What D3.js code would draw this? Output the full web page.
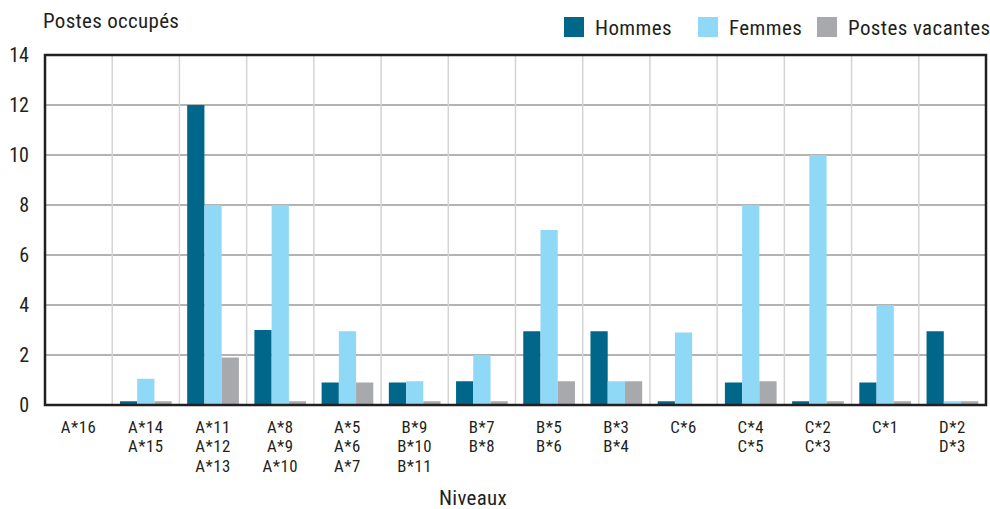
<!DOCTYPE html>
<html><head><meta charset="utf-8">
<script src="https://cdn.jsdelivr.net/npm/d3@7/dist/d3.min.js"></script>
<style>
body{margin:0;background:#fff;}
text{font-family:"Liberation Sans Narrow","Roboto Condensed","Arial Narrow","Liberation Sans",sans-serif;fill:#231f20;}
</style></head><body>
<svg id="c" width="990" height="509"></svg>
<script>
const categories = [["A*16"],["A*14","A*15"],["A*11","A*12","A*13"],["A*8","A*9","A*10"],["A*5","A*6","A*7"],["B*9","B*10","B*11"],["B*7","B*8"],["B*5","B*6"],["B*3","B*4"],["C*6"],["C*4","C*5"],["C*2","C*3"],["C*1"],["D*2","D*3"]];
const seriesNames = ["Hommes","Femmes","Postes vacantes"];
const hommes   = [0, 0.15, 12, 3, 0.9, 0.9, 0.95, 2.95, 2.95, 0.15, 0.9, 0.15, 0.9, 2.95];
const femmes   = [0, 1.05, 8, 8, 2.95, 0.95, 2, 7, 0.95, 2.9, 8, 10, 4, 0.15];
const vacantes = [0, 0.15, 1.9, 0.15, 0.9, 0.15, 0.15, 0.95, 0.95, 0, 0.95, 0.15, 0.15, 0.15];
const yTicks = [0,2,4,6,8,10,12,14];
const colors = ["#00678a","#8fd8f6","#a8a9ad"];

const svg = d3.select("#c");
const L=45, R=986, T=55, B=405;
const keys = categories.map(c=>c.join(" "));
const x = d3.scaleBand().domain(keys).range([L,R]).paddingInner(0).paddingOuter(0);
const xi = d3.scaleBand().domain(seriesNames).range([0,x.bandwidth()]).paddingOuter(0.45).paddingInner(0);
const y = d3.scaleLinear().domain([0,14]).range([B,T]);
const series = [hommes,femmes,vacantes];

// horizontal grid
svg.append("g").selectAll("line").data(yTicks.filter(t=>t>0&&t<14)).join("line")
  .attr("x1",L).attr("x2",R).attr("y1",d=>y(d)).attr("y2",d=>y(d))
  .attr("stroke","#9a9a9a").attr("stroke-width",1.5);
// vertical grid
svg.append("g").selectAll("line").data(keys.slice(1)).join("line")
  .attr("x1",d=>x(d)).attr("x2",d=>x(d)).attr("y1",T).attr("y2",B)
  .attr("stroke","#d4d4d4").attr("stroke-width",1.5);

// bars
seriesNames.forEach((s,si)=>{
  svg.append("g").selectAll("rect").data(series[si]).join("rect")
    .attr("x",(d,i)=>x(keys[i])+xi(s))
    .attr("width",xi.bandwidth())
    .attr("y",d=>y(d))
    .attr("height",d=>B-y(d))
    .attr("fill",colors[si]);
});

// frame
svg.append("rect").attr("x",L).attr("y",T).attr("width",R-L).attr("height",B-T)
  .attr("fill","none").attr("stroke","#231f20").attr("stroke-width",2.5);

// y tick labels
svg.append("g").selectAll("text").data(yTicks).join("text")
  .attr("x",29).attr("y",d=>y(d)).attr("dy","0.36em").attr("text-anchor","end")
  .attr("font-size",20).text(d=>d);

// x labels (one text element per line)
const xlines = [];
categories.forEach((c,i)=>c.forEach((t,j)=>xlines.push({t, i, j})));
svg.append("g").selectAll("text").data(xlines).join("text")
  .attr("text-anchor","middle").attr("font-size",16.8).attr("letter-spacing",0.5)
  .attr("x",d=>x(keys[d.i])+x.bandwidth()/2)
  .attr("y",d=>433+d.j*19.4)
  .text(d=>d.t);

// axis titles
svg.append("text").attr("x",43).attr("y",28).attr("font-size",21).attr("letter-spacing",0.3).text("Postes occupés");
svg.append("text").attr("x",439).attr("y",505).attr("font-size",21).attr("letter-spacing",0.3).text("Niveaux");

// legend
const legX = [564,698,817];
const lg = svg.append("g").selectAll("g").data(seriesNames).join("g")
  .attr("transform",(d,i)=>`translate(${legX[i]},17)`);
lg.append("rect").attr("width",20).attr("height",20).attr("fill",(d,i)=>colors[i]);
lg.append("text").attr("x",31).attr("y",18).attr("font-size",21).attr("letter-spacing",0.4).text(d=>d);
</script>
</body></html>
